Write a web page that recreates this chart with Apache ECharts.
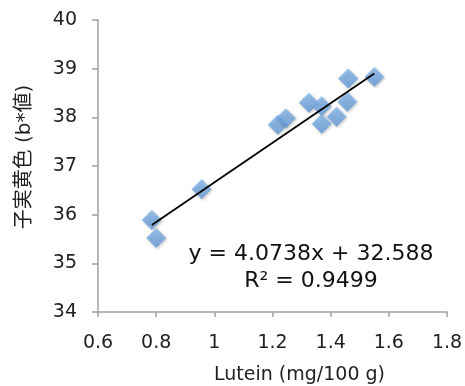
<!DOCTYPE html>
<html><head><meta charset="utf-8">
<script src="https://cdn.jsdelivr.net/npm/echarts@6/dist/echarts.min.js"></script>
<style>html,body{margin:0;padding:0;background:#fff}#c{width:465px;height:386px}</style>
</head><body><div id="c"></div>
<script>
const luteinX = [0.785, 0.80, 0.956, 1.218, 1.246, 1.325, 1.369, 1.369, 1.420, 1.457, 1.46, 1.55];
const colorB  = [35.89, 35.52, 36.52, 37.85, 37.98, 38.30, 38.23, 37.87, 38.01, 38.32, 38.80, 38.83];
const slope = 4.0738, intercept = 32.588;
const eqText = 'y = 4.0738x + 32.588';
const r2Text = 'R² = 0.9499';
const xTitle = 'Lutein (mg/100 g)';
const yTitle = '子実黄色 (b*値)';

const pts = luteinX.map((x,i)=>[x,colorB[i]]);
const xmin = Math.min(...luteinX), xmax = Math.max(...luteinX);
const trend = [[xmin, slope*xmin+intercept],[xmax, slope*xmax+intercept]];
const font = '"DejaVu Sans", Verdana, sans-serif';
const chart = echarts.init(document.getElementById('c'));
chart.setOption({
  animation:false,
  grid:{left:98,right:18,top:20,bottom:74,outerBoundsMode:'none',containLabel:false},
  xAxis:{type:'value',min:0.6,max:1.8,interval:0.2,
    name:xTitle,nameLocation:'middle',nameGap:54,
    nameTextStyle:{fontFamily:font,fontSize:19,color:'#222',padding:[0,0,0,54]},
    axisLine:{lineStyle:{color:'#a0a0a0',width:1.5}},
    axisTick:{show:true,length:5,lineStyle:{color:'#a0a0a0',width:1.5}},
    axisLabel:{fontFamily:font,fontSize:19,color:'#222',margin:22,formatter:v=>String(Math.round(v*10)/10)},
    splitLine:{show:false}},
  yAxis:{type:'value',min:34,max:40,interval:1,
    name:yTitle,nameLocation:'middle',nameGap:63,nameRotate:90,
    nameTextStyle:{fontFamily:'"DejaVu Sans", "Noto Sans CJK JP", sans-serif',fontSize:20,color:'#222',padding:[0,0,0,18]},
    axisLine:{show:true,lineStyle:{color:'#a0a0a0',width:1.5}},
    axisTick:{show:true,length:6,lineStyle:{color:'#a0a0a0',width:1.5}},
    axisLabel:{fontFamily:font,fontSize:19,color:'#222',margin:21},
    splitLine:{show:false}},
  series:[
    {type:'scatter',data:pts,symbol:'diamond',symbolSize:20,
     itemStyle:{color:{type:'linear',x:0,y:0,x2:0,y2:1,colorStops:[{offset:0,color:'#84b6ea'},{offset:1,color:'#639ad8'}]},
       shadowBlur:3,shadowColor:'rgba(0,0,0,0.3)',shadowOffsetX:1,shadowOffsetY:1},z:2},
    {type:'line',data:trend,symbol:'none',lineStyle:{color:'#000',width:1.8},z:3}
  ],
  graphic:[
    {type:'text',style:{text:eqText,x:311,y:254,align:'center',verticalAlign:'middle',font:'22px '+font,fill:'#111'}},
    {type:'text',style:{text:r2Text,x:311,y:281,align:'center',verticalAlign:'middle',font:'22px '+font,fill:'#111'}}
  ]
});
</script></body></html>
